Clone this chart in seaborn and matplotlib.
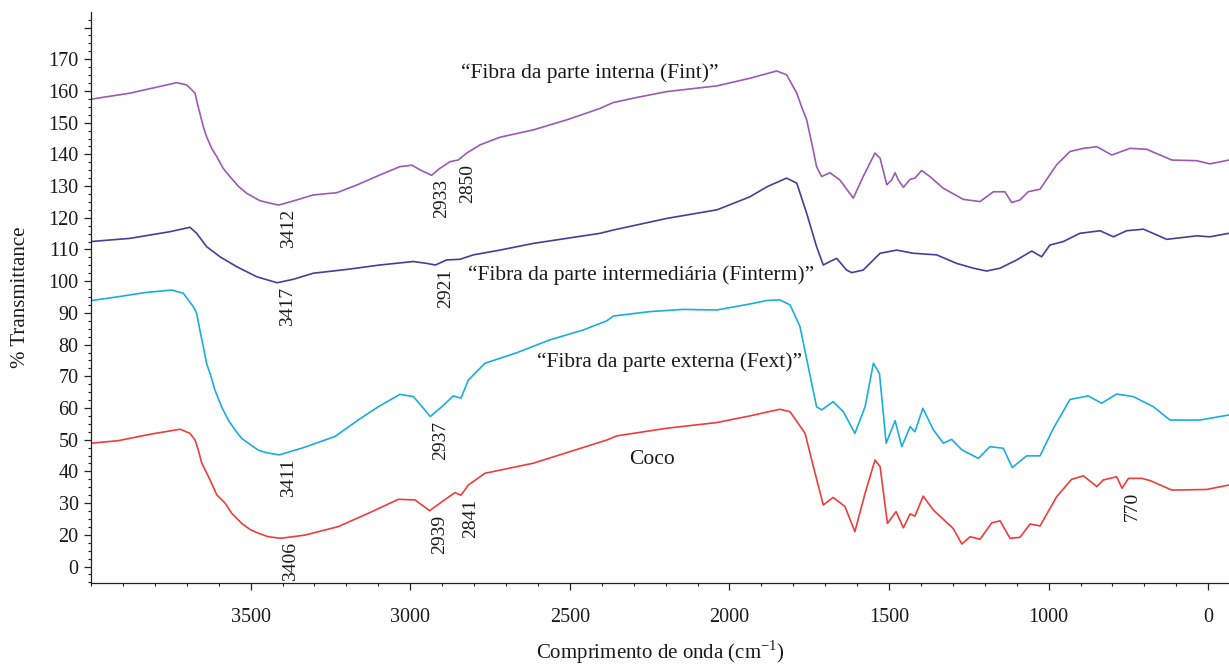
import numpy as np
import pandas as pd
import matplotlib
matplotlib.use("Agg")
import matplotlib.pyplot as plt
from matplotlib.ticker import MultipleLocator, FixedLocator, FixedFormatter
import seaborn as sns

# FTIR spectra of coconut fibre fractions (wavenumber in cm-1, % transmittance)
fint_wn = [4000, 3878, 3732, 3700, 3674, 3667, 3659, 3648, 3638, 3622, 3606, 3586,
           3565, 3539, 3512, 3471, 3439, 3412,
           3356, 3304, 3230, 3168, 3095, 3033, 2995, 2969, 2933, 2907, 2875, 2850,
           2823, 2781, 2719, 2615, 2509, 2405, 2365, 2302, 2196, 2039, 1936, 1852,
           1821, 1789, 1774, 1758, 1742, 1727, 1711, 1685, 1654, 1612, 1581, 1544, 1528, 1507,
           1492, 1481, 1471, 1455, 1434, 1419, 1398, 1372, 1330, 1267, 1215, 1173,
           1137, 1116, 1090, 1064, 1027, 975, 933, 891, 849, 802, 745, 693, 614,
           536, 495, 435]
fint_t = [157.4, 159.3, 162.6, 161.9, 159.3, 156.1, 153.0, 148.7, 145.6, 141.9, 139.3, 135.6,
          133.0, 130.0, 127.7, 125.4, 124.6, 124.0,
          125.6, 127.2, 127.9, 130.3, 133.5, 136.1, 136.6, 135.1, 133.4, 135.6, 137.7, 138.2,
          140.4, 143.0, 145.4, 147.7, 150.9, 154.5, 156.3, 157.7, 159.8, 161.6, 164.0, 166.3,
          165.1, 159.3, 155.0, 150.9, 143.5, 136.1, 133.0, 134.2, 131.9, 126.2, 133.0, 140.4, 138.8, 130.4,
          131.9, 134.2, 131.9, 129.6, 132.1, 132.5, 134.9, 133.0, 129.3, 125.8, 125.1, 128.2,
          128.2, 124.8, 125.6, 128.2, 129.0, 136.7, 140.9, 141.9, 142.4, 139.8, 141.9, 141.6, 138.2,
          138.0, 137.0, 138.2]

finterm_wn = [4000, 3878, 3753, 3690, 3669, 3638, 3596, 3544, 3481, 3417, 3366, 3304,
              3199, 3095, 2990, 2948, 2921, 2886, 2844, 2802, 2719, 2615, 2405, 2365,
              2196, 2039, 1936, 1882, 1821, 1789, 1758, 1727, 1706, 1685, 1664, 1633,
              1617, 1581, 1528, 1476, 1424, 1351, 1288, 1236, 1194, 1152, 1100, 1053,
              1022, 996, 954, 902, 839, 797, 756, 703, 630, 536, 495, 435]
finterm_t = [112.5, 113.5, 115.6, 117.0, 115.1, 110.9, 107.7, 104.6, 101.4, 99.5, 100.6, 102.5,
             103.7, 105.1, 106.2, 105.6, 105.1, 106.7, 106.9, 108.3, 109.8, 111.9, 115.1, 116.1,
             119.8, 122.5, 126.6, 129.8, 132.5, 130.9, 121.4, 110.9, 105.1, 106.2, 107.2, 103.5,
             102.7, 103.5, 108.8, 109.8, 108.8, 108.3, 105.6, 104.1, 103.2, 104.1, 106.7, 109.5,
             107.7, 111.4, 112.5, 115.1, 115.9, 114.0, 115.9, 116.4, 113.2, 114.3, 114.0, 115.1]

fext_wn = [3998, 3914, 3831, 3747, 3711, 3680, 3669, 3659, 3648, 3638, 3624, 3612, 3591,
           3570, 3549, 3528, 3507, 3476, 3450,
           3411, 3340, 3236, 3163, 3100, 3032, 2990, 2937, 2901, 2865, 2841, 2818,
           2766, 2667, 2562, 2458, 2384, 2364, 2249, 2144, 2040, 1936, 1883, 1842,
           1810, 1779, 1753, 1727, 1711, 1675, 1643, 1607, 1575, 1549, 1530, 1509,
           1481, 1460, 1434, 1419, 1394, 1361, 1330, 1304, 1272, 1220, 1184, 1142,
           1114, 1069, 1027, 985, 933, 876, 834, 787, 735, 672, 620, 526, 435]
fext_t = [93.9, 95.1, 96.4, 97.2, 96.2, 92.0, 89.9, 84.6, 79.3, 74.1, 69.9, 65.7, 60.4,
          56.2, 53.1, 50.4, 48.9, 46.7, 45.9,
          45.2, 47.3, 51.0, 56.2, 60.4, 64.3, 63.6, 57.3, 60.4, 63.8, 63.1, 68.8,
          74.1, 77.4, 81.5, 84.6, 87.5, 89.0, 90.4, 91.1, 90.9, 92.8, 93.9, 94.1,
          92.5, 85.7, 73.0, 60.4, 59.4, 62.0, 58.8, 52.0, 60.4, 74.1, 70.9, 48.9,
          56.0, 47.8, 54.1, 52.5, 59.9, 53.1, 48.9, 50.1, 46.8, 44.1, 47.8, 47.3,
          41.2, 44.9, 44.9, 53.6, 62.7, 63.8, 61.5, 64.4, 63.6, 60.4, 56.2, 56.2, 57.8]

coco_wn = [3998, 3914, 3810, 3721, 3690, 3674, 3664, 3653, 3627, 3606, 3580, 3559, 3528,
           3502, 3476, 3445, 3406, 3330,
           3225, 3131, 3037, 2985, 2939, 2901, 2860, 2841, 2818, 2766, 2614, 2510,
           2384, 2353, 2197, 2040, 1936, 1842, 1810, 1763, 1737, 1706, 1675, 1638,
           1607, 1575, 1544, 1528, 1505, 1478, 1455, 1434, 1419, 1393, 1361, 1299,
           1272, 1246, 1215, 1178, 1152, 1121, 1090, 1058, 1027, 975, 928, 891,
           849, 829, 787, 770, 750, 708, 682, 614, 505, 435]
coco_t = [48.9, 49.7, 51.8, 53.3, 52.0, 49.9, 46.8, 42.6, 37.3, 32.6, 30.0, 26.8, 23.6,
          21.7, 20.5, 19.4, 18.9, 19.9,
          22.6, 26.8, 31.2, 31.0, 27.6, 30.4, 33.3, 32.5, 35.7, 39.4, 42.6, 45.9,
          49.9, 51.2, 53.6, 55.4, 57.5, 59.6, 58.8, 52.0, 41.5, 29.4, 31.8, 28.9,
          21.0, 33.1, 43.6, 41.5, 23.6, 27.3, 22.2, 26.6, 25.9, 32.2, 27.8, 22.0,
          17.1, 19.4, 18.6, 23.8, 24.4, 18.9, 19.2, 23.4, 22.8, 32.0, 37.5, 38.6,
          35.2, 37.3, 38.3, 34.7, 37.8, 37.8, 37.1, 34.1, 34.3, 35.7]

series_names = ["Fint", "Finterm", "Fext", "Coco"]
series_colors = ["#9b5ab4", "#4a3c9c", "#1badde", "#ee3d3d"]

# Band labels: (wavenumber, series)
band_wn = [3412, 2933, 2850, 3417, 2921, 3411, 2937, 3406, 2939, 2841, 770]
band_series = ["Fint", "Fint", "Fint", "Finterm", "Finterm", "Fext", "Fext",
               "Coco", "Coco", "Coco", "Coco"]

# Curve captions
caption_text = ["\u201cFibra da parte interna (Fint)\u201d",
                "\u201cFibra da parte intermediária (Finterm)\u201d",
                "\u201cFibra da parte externa (Fext)\u201d",
                "Coco"]
caption_wn = [2437, 2277, 2189, 2242]
caption_t = [165.7, 102.0, 74.5, 43.6]

# Axis ticks
xtick_pos = [3500, 3000, 2500, 2000, 1500, 1000, 500]
xtick_lab = ["3500", "3000", "2500", "2000", "1500", "1000", "0"]
ytick_pos = [10, 20, 30, 40, 50, 60, 70, 80, 90, 100, 110, 120, 130, 140, 150, 160, 170, 180]
ytick_lab = ["0", "20", "30", "40", "50", "60", "70", "80", "90", "100", "110", "120",
             "130", "140", "150", "160", "170", ""]

spectra = {
    "Fint": (fint_wn, fint_t),
    "Finterm": (finterm_wn, finterm_t),
    "Fext": (fext_wn, fext_t),
    "Coco": (coco_wn, coco_t),
}
df = pd.concat(
    [pd.DataFrame({"wn": wn, "T": t, "amostra": name}) for name, (wn, t) in spectra.items()],
    ignore_index=True,
)

sns.set_style("ticks")
plt.rcParams["font.family"] = ["Liberation Serif", "DejaVu Serif"]
plt.rcParams["mathtext.fontset"] = "custom"
plt.rcParams["mathtext.rm"] = "Liberation Serif"

fig = plt.figure(figsize=(12.29, 6.66), dpi=100)
ax = fig.add_axes([91 / 1229, 83 / 666, 1 - 91 / 1229, (583 - 12) / 666])

sns.lineplot(data=df, x="wn", y="T", hue="amostra", hue_order=series_names,
             palette=series_colors, estimator=None, sort=False, linewidth=1.2,
             legend=False, ax=ax)

ax.set_xlim(4000, 435)
ax.set_ylim(4.8, 184.9)

ax.xaxis.set_major_locator(FixedLocator(xtick_pos))
ax.xaxis.set_major_formatter(FixedFormatter(xtick_lab))
ax.xaxis.set_minor_locator(MultipleLocator(100))
ax.yaxis.set_major_locator(FixedLocator(ytick_pos))
ax.yaxis.set_major_formatter(FixedFormatter(ytick_lab))
ax.yaxis.set_minor_locator(MultipleLocator(2.5))

ax.tick_params(axis="both", which="major", labelsize=14.5, length=5, width=0.9,
               color="#222222", labelcolor="#1a1a1a")
ax.tick_params(axis="both", which="minor", length=2.5, width=0.8, color="#222222")
ax.tick_params(axis="x", which="major", pad=13)
ax.tick_params(axis="y", which="major", pad=4)

for side in ("top", "right"):
    ax.spines[side].set_visible(False)
for side in ("left", "bottom"):
    ax.spines[side].set_linewidth(0.9)
    ax.spines[side].set_color("#222222")

ax.set_xlabel("Comprimento de onda (cm$^{\\mathregular{-1}}$)", fontsize=15,
              color="#1a1a1a", labelpad=8)
ax.set_ylabel("% Transmittance", fontsize=15, color="#1a1a1a", labelpad=13)

# Band position labels under each absorption
for wn, name in zip(band_wn, band_series):
    x, t = spectra[name]
    y = np.interp(wn, x[::-1], t[::-1])
    ax.annotate(str(wn), xy=(wn, y), xytext=(10, -4), textcoords="offset pixels",
                rotation=90, ha="center", va="top", fontsize=14, color="#1a1a1a")

for text, wn, t in zip(caption_text, caption_wn, caption_t):
    ax.text(wn, t, text, ha="center", va="center", fontsize=15.5, color="#1a1a1a")

fig.savefig("out.png", dpi=100)
